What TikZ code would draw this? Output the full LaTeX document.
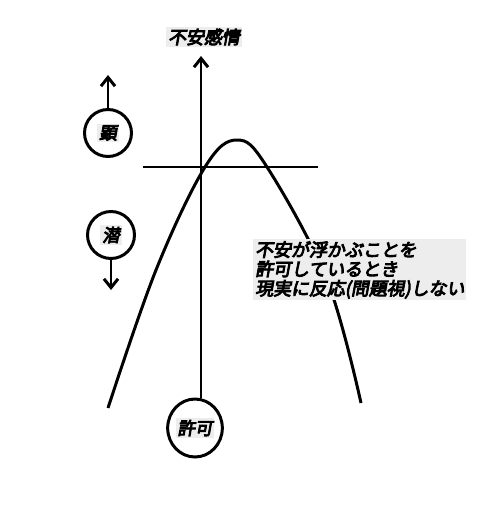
\documentclass[tikz,border=0pt]{standalone}
\usepackage{fontspec}
\newfontfamily\jpfont[FakeSlant=0.18,FakeBold=5]{Noto Sans CJK JP}
\usetikzlibrary{arrows.meta,shapes.geometric}
\newcommand{\grbox}[1]{{\setlength{\fboxsep}{1pt}\colorbox{black!7}{#1}}}

\begin{document}
\begin{tikzpicture}[
	x=0.02cm, y=-0.02cm,
	line width=1.7pt,
	jptext/.style={ font=\jpfont\fontsize{10.2}{11}\selectfont, inner sep=1pt },
	mark circ/.style={ circle, draw, minimum size=0.94cm, inner sep=0pt, font=\jpfont\fontsize{10}{11}\selectfont },
	axis arrow/.style={ -{Straight Barb[length=5pt,width=8pt]} }
]
\useasboundingbox (0,0) rectangle (499,517);

% nodes
\node (kyoka) at (195,428) [ellipse, draw, minimum width=1.08cm, minimum height=1.16cm, inner sep=0pt,
  font=\jpfont\fontsize{10}{11}\selectfont] {\grbox{許可}};
\node (fuan) at (204,37) [jptext, fill=black!7] {不安感情};
\coordinate (axtop) at (201,56);
\node (ken) at (108,133) [mark circ] {\grbox{顕}};
\coordinate (kentop) at (108,75);
\node (sen) at (111,235) [mark circ] {\grbox{潜}};
\coordinate (senbot) at (111,290);
\coordinate (hl) at (143,167);
\coordinate (hr) at (318,167);

% axes and arrows
\draw[axis arrow] (kyoka.north -| axtop) -- (axtop);
\draw (hl) -- (hr);
\draw[axis arrow] (ken.north) -- (kentop);
\draw[axis arrow] (sen.south) -- (senbot);

% curve, then the note over it
\draw plot[smooth, tension=0.6] coordinates {(108,408) (156,270) (205,167) (237,140)
  (267,167) (327,280) (361,403)};
\node (note) at (252,238) [jptext, anchor=north west, align=left, fill=black!7]
  {不安が浮かぶことを\\許可しているとき\\現実に反応(問題視)しない};

\end{tikzpicture}
\end{document}
